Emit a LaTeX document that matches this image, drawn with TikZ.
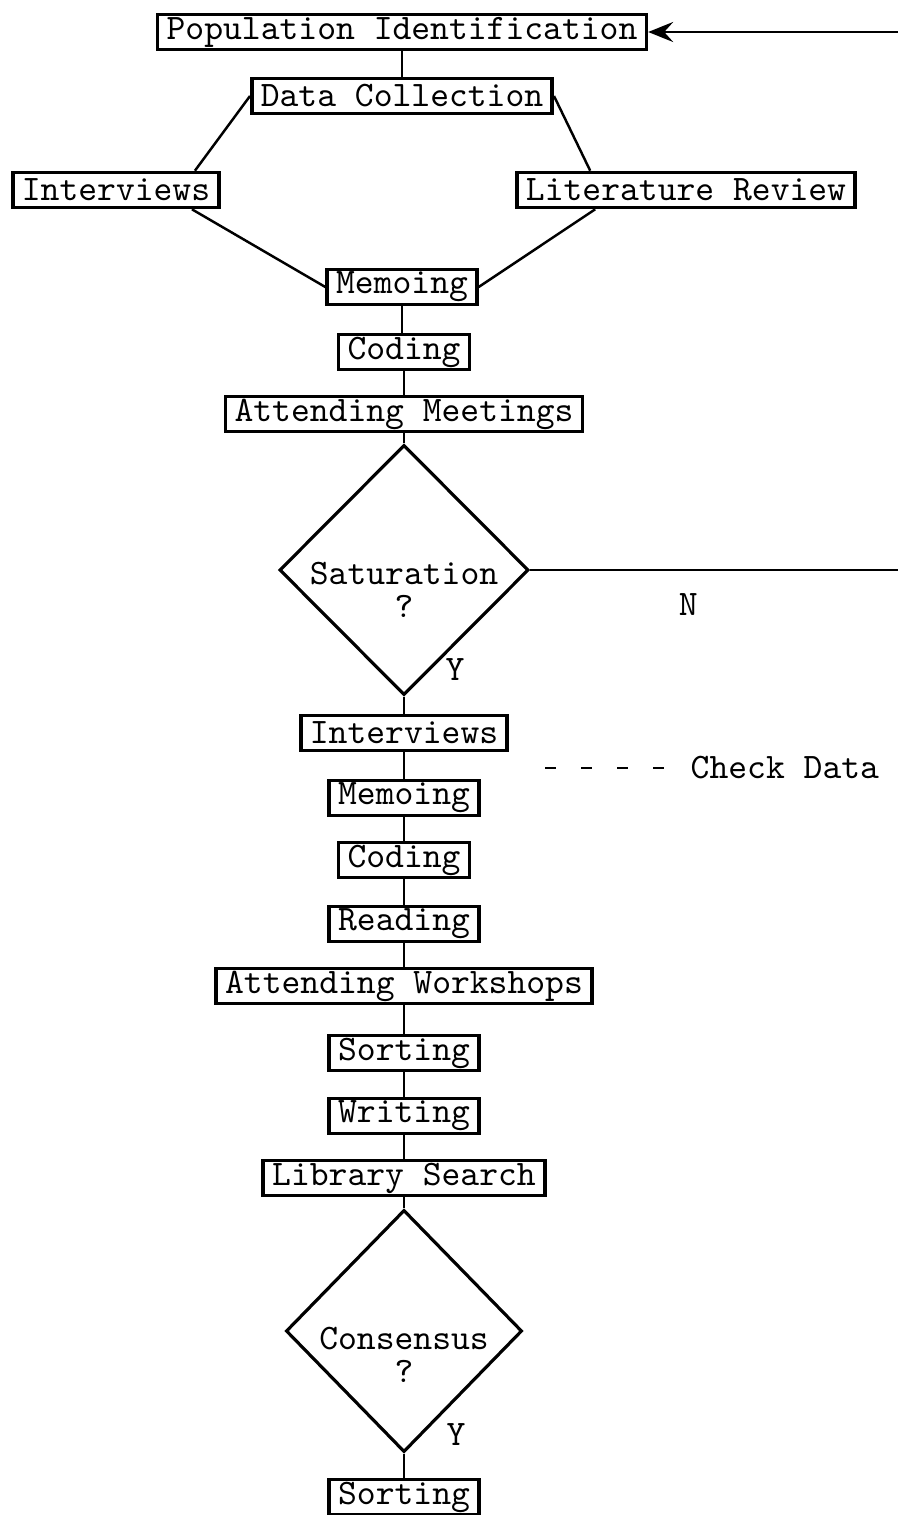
\documentclass[tikz,border=0pt]{standalone}
\usepackage{fontspec}
\usetikzlibrary{positioning, shapes.geometric, arrows.meta}

\begin{document}
\begin{tikzpicture}[x=0.01cm, y=-0.01cm, every node/.style={font=\ttfamily\fontsize{10.2}{9.4}\selectfont, align=center}, arrow/.style={-{Stealth[length=2.5mm, width=2mm, inset=0.9mm]}, line width=0.7pt}, link/.style={line width=0.7pt}]
        \tikzstyle{stage} = [rectangle, draw=black, line width=1pt, inner xsep=0.09cm, inner ysep=0.5pt, minimum height=0.35cm]
        \tikzstyle{decision} = [diamond, draw=black, line width=0.9pt, inner sep=0pt]
        \tikzstyle{answer} = [inner sep=0pt]

        \useasboundingbox (0,0) rectangle (898,1515);

        \node[stage] (popid) at (402,32) {Population Identification};
        \node[stage] (datacoll) at (402,96) {Data Collection};
        \node[stage] (interv) at (116,190) {Interviews};
        \node[stage] (litrev) at (686,190) {Literature Review};
        \node[stage] (memo) at (402,287) {Memoing};
        \node[stage] (coding) at (404,352) {Coding};
        \node[stage] (meetings) at (404,414) {Attending Meetings};
        \node[decision, minimum width=2.49cm, minimum height=2.5cm, label={[yshift=-0.2cm]center:{Saturation\\?}}] (satur) at (404,570) {};

        \node[stage] (interv2) at (404,733) {Interviews};
        \node[stage] (memo2) at (404,798) {Memoing};
        \node[stage] (coding2) at (404,860) {Coding};
        \node[stage] (reading) at (404,924) {Reading};
        \node[stage] (workshops) at (404,986) {Attending Workshops};
        \node[stage] (sorting) at (404,1053) {Sorting};
        \node[stage] (writing) at (404,1116) {Writing};
        \node[stage] (library) at (404,1178) {Library Search};
        \node[decision, minimum width=2.36cm, minimum height=2.42cm, label={[yshift=-0.24cm]center:{Consensus\\?}}] (consens) at (404,1331) {};
        \node[stage] (sorting2) at (404,1497) {Sorting};

        \node[answer] (saturyes) at (455,670) {Y};
        \node[answer] (consyes) at (456,1435) {Y};

        % loop back to the start (leaves the page on the right)
        \coordinate (loopin) at (898,32);
        \coordinate (loopout) at (satur.east -| loopin);

        % legend
        \coordinate (checkA) at (545,768);
        \coordinate (checkB) at (680,768);
        \node[answer, right=0.1cm of checkB] (checkdata) {Check Data};
        \draw[link, dash pattern=on 0.11cm off 0.25cm] (checkA) -- (checkB);

        \draw[link] (popid) -- (datacoll);
        \draw[link] (datacoll.west) -- ([xshift=-0.26cm]interv.north east);
        \draw[link] (datacoll.east) -- ([xshift=0.75cm]litrev.north west);
        \draw[link] ([xshift=-0.29cm]interv.south east) -- (memo.west);
        \draw[link] ([xshift=0.8cm]litrev.south west) -- (memo.east);
        \draw[link] (memo.south) -- (memo.south |- coding.north);
        \draw[link] (coding) -- (meetings);
        \draw[link] (meetings) -- (satur);
        \draw[link] (satur.east) -- (loopout) node[pos=0.43, below=0.22cm, answer] {N};
        \draw[arrow] (loopin) -- (popid.east);

        \draw[link] (satur) -- (interv2);
        \draw[link] (interv2) -- (memo2);
        \draw[link] (memo2) -- (coding2);
        \draw[link] (coding2) -- (reading);
        \draw[link] (reading) -- (workshops);
        \draw[link] (workshops) -- (sorting);
        \draw[link] (sorting) -- (writing);
        \draw[link] (writing) -- (library);
        \draw[link] (library) -- (consens);
        \draw[link] (consens) -- (sorting2);
    \end{tikzpicture}
\end{document}
